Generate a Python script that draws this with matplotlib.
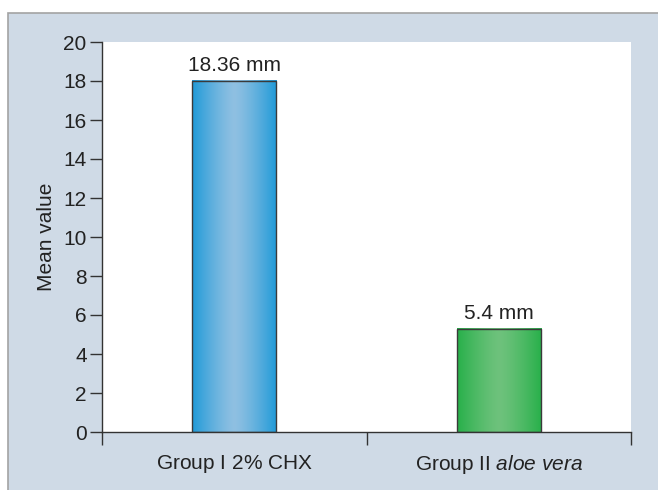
import numpy as np
import matplotlib
matplotlib.use('Agg')
import matplotlib.pyplot as plt
from matplotlib.patches import Rectangle

plt.rcParams['font.family'] = ['Liberation Sans', 'DejaVu Sans']
plt.rcParams['mathtext.fontset'] = 'custom'
plt.rcParams['mathtext.rm'] = 'Liberation Sans'
plt.rcParams['mathtext.it'] = 'Liberation Sans:italic'

# data
groups = ['$\\mathrm{Group\\ I\\ 2\\%\\ CHX}$', '$\\mathrm{Group\\ II}\\ \\mathit{aloe\\ vera}$']
heights = [18.0, 5.3]
labels = ['18.36 mm', '5.4 mm']
edge_cols = [('#1f9ad8', '#8fc0e2'), ('#27b04a', '#6ec27c')]

fig = plt.figure(figsize=(6.58, 4.9), dpi=100)
fig.patch.set_facecolor('white')

# light blue panel with grey top/left border
panel = Rectangle((8 / 658, 0 - 0.1), 1.2, (490 - 13) / 490 + 0.1,
                  transform=fig.transFigure, facecolor='#cfdae6',
                  edgecolor='#a3a3a3', linewidth=1.2, zorder=-5)
fig.patches.append(panel)

ax = fig.add_axes([102 / 658, 58 / 490, 529 / 658, 390 / 490])
ax.set_facecolor('white')
ax.set_zorder(1)

x = np.arange(len(groups))
bw = 0.318
bars = ax.bar(x, heights, width=bw, color='none', edgecolor='#3a3a3a',
              linewidth=1, zorder=3)

# gradient fill inside each bar
for b, (c_edge, c_mid) in zip(bars, edge_cols):
    e = np.array(matplotlib.colors.to_rgb(c_edge))
    m = np.array(matplotlib.colors.to_rgb(c_mid))
    t = np.linspace(-1, 1, 200)
    w = 1 - np.abs(t) ** 1.3
    grad = e[None, :] * (1 - w[:, None]) + m[None, :] * w[:, None]
    x0, y0 = b.get_x(), b.get_y()
    ax.imshow(grad[None, :, :], extent=[x0, x0 + b.get_width(), y0, y0 + b.get_height()],
              aspect='auto', zorder=2)

for xi, h, lab in zip(x, heights, labels):
    ax.text(xi, h + 0.3, lab, ha='center', va='bottom', fontsize=15, color='#222222')

ax.set_xlim(-0.5, 1.5)
ax.set_ylim(0, 20)
ax.set_yticks(np.arange(0, 21, 2))
ax.set_xticks([-0.5, 0.5, 1.5])
ax.set_xticklabels([])
ax.set_xticks(x, minor=True)
ax.set_xticklabels(groups, minor=True)
ax.tick_params(axis='x', which='minor', length=0, pad=15, labelsize=15, labelcolor='#222222')
ax.tick_params(axis='x', which='major', length=9, width=1, color='#333333')
ax.tick_params(axis='y', length=9, width=1, color='#333333', labelsize=15,
               labelcolor='#222222', pad=2)

for s in ['top', 'right']:
    ax.spines[s].set_visible(False)
for s in ['left', 'bottom']:
    ax.spines[s].set_color('#333333')
    ax.spines[s].set_linewidth(1)

ax.set_ylabel('Mean value', fontsize=15, color='#222222', labelpad=5)

fig.savefig('out.png', dpi=100, facecolor=fig.get_facecolor())
